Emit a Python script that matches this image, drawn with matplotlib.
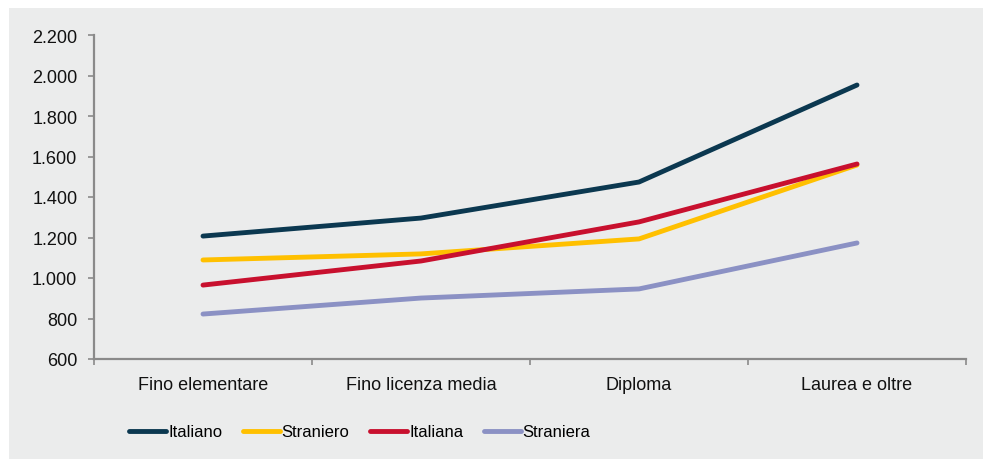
import matplotlib.pyplot as plt
from matplotlib.patches import Rectangle
from matplotlib.ticker import FuncFormatter

categories = ["Fino elementare", "Fino licenza media", "Diploma", "Laurea e oltre"]
italiano = [1207, 1296, 1474, 1953]
straniero = [1089, 1119, 1193, 1558]
italiana = [965, 1084, 1277, 1563]
straniera = [822, 901, 946, 1173]

series = [
    ("Italiano", italiano, "#0b3850"),
    ("Straniero", straniero, "#ffc000"),
    ("Italiana", italiana, "#c8102e"),
    ("Straniera", straniera, "#8b91c4"),
]

bg = "#ebecec"
axis_col = "#8a8a8a"
plt.rcParams['font.family'] = ['Liberation Sans', 'DejaVu Sans']

fig = plt.figure(figsize=(9.83, 4.6), dpi=100)
fig.patch.set_facecolor("white")
# grey panel behind everything, leaving a thin white strip top and left
fig.add_artist(Rectangle((9 / 983, 0), 1, 451 / 460, transform=fig.transFigure,
                         facecolor=bg, edgecolor="none", zorder=-10))

ax = fig.add_axes([94 / 983, 100 / 460, 872 / 983, 324 / 460])
ax.set_facecolor(bg)
ax.set_zorder(1)

x = range(len(categories))
for name, vals, col in series:
    ax.plot(x, vals, color=col, linewidth=3.5, solid_capstyle="round", label=name)

ax.set_xlim(-0.5, len(categories) - 0.5)
ax.set_ylim(600, 2200)
ax.set_yticks(range(600, 2201, 200))
ax.yaxis.set_major_formatter(FuncFormatter(lambda v, p: f"{int(v):,}".replace(",", ".")))

# ticks between categories, labels centred under each category
ax.set_xticks([i - 0.5 for i in range(len(categories) + 1)])
ax.set_xticklabels([])
ax.set_xticks(list(x), minor=True)
ax.set_xticklabels(categories, minor=True)
ax.tick_params(axis="x", which="minor", length=0, pad=12)

ax.tick_params(axis="both", which="major", direction="out", length=4, width=1.2,
               color=axis_col, labelsize=13, labelcolor="#111111")
ax.tick_params(axis="x", which="minor", labelsize=13, labelcolor="#111111")
ax.tick_params(axis="y", pad=8)

for s in ["top", "right"]:
    ax.spines[s].set_visible(False)
for s in ["left", "bottom"]:
    ax.spines[s].set_color(axis_col)
    ax.spines[s].set_linewidth(1.6)

leg = fig.legend(loc="center left", bbox_to_anchor=(121 / 983, 27 / 460), ncol=4,
                 frameon=False, borderpad=0, handlelength=2.2, handletextpad=0.12,
                 columnspacing=1.25, fontsize=12)
leg.set_zorder(2)

fig.savefig("out.png", dpi=100, facecolor="white")
